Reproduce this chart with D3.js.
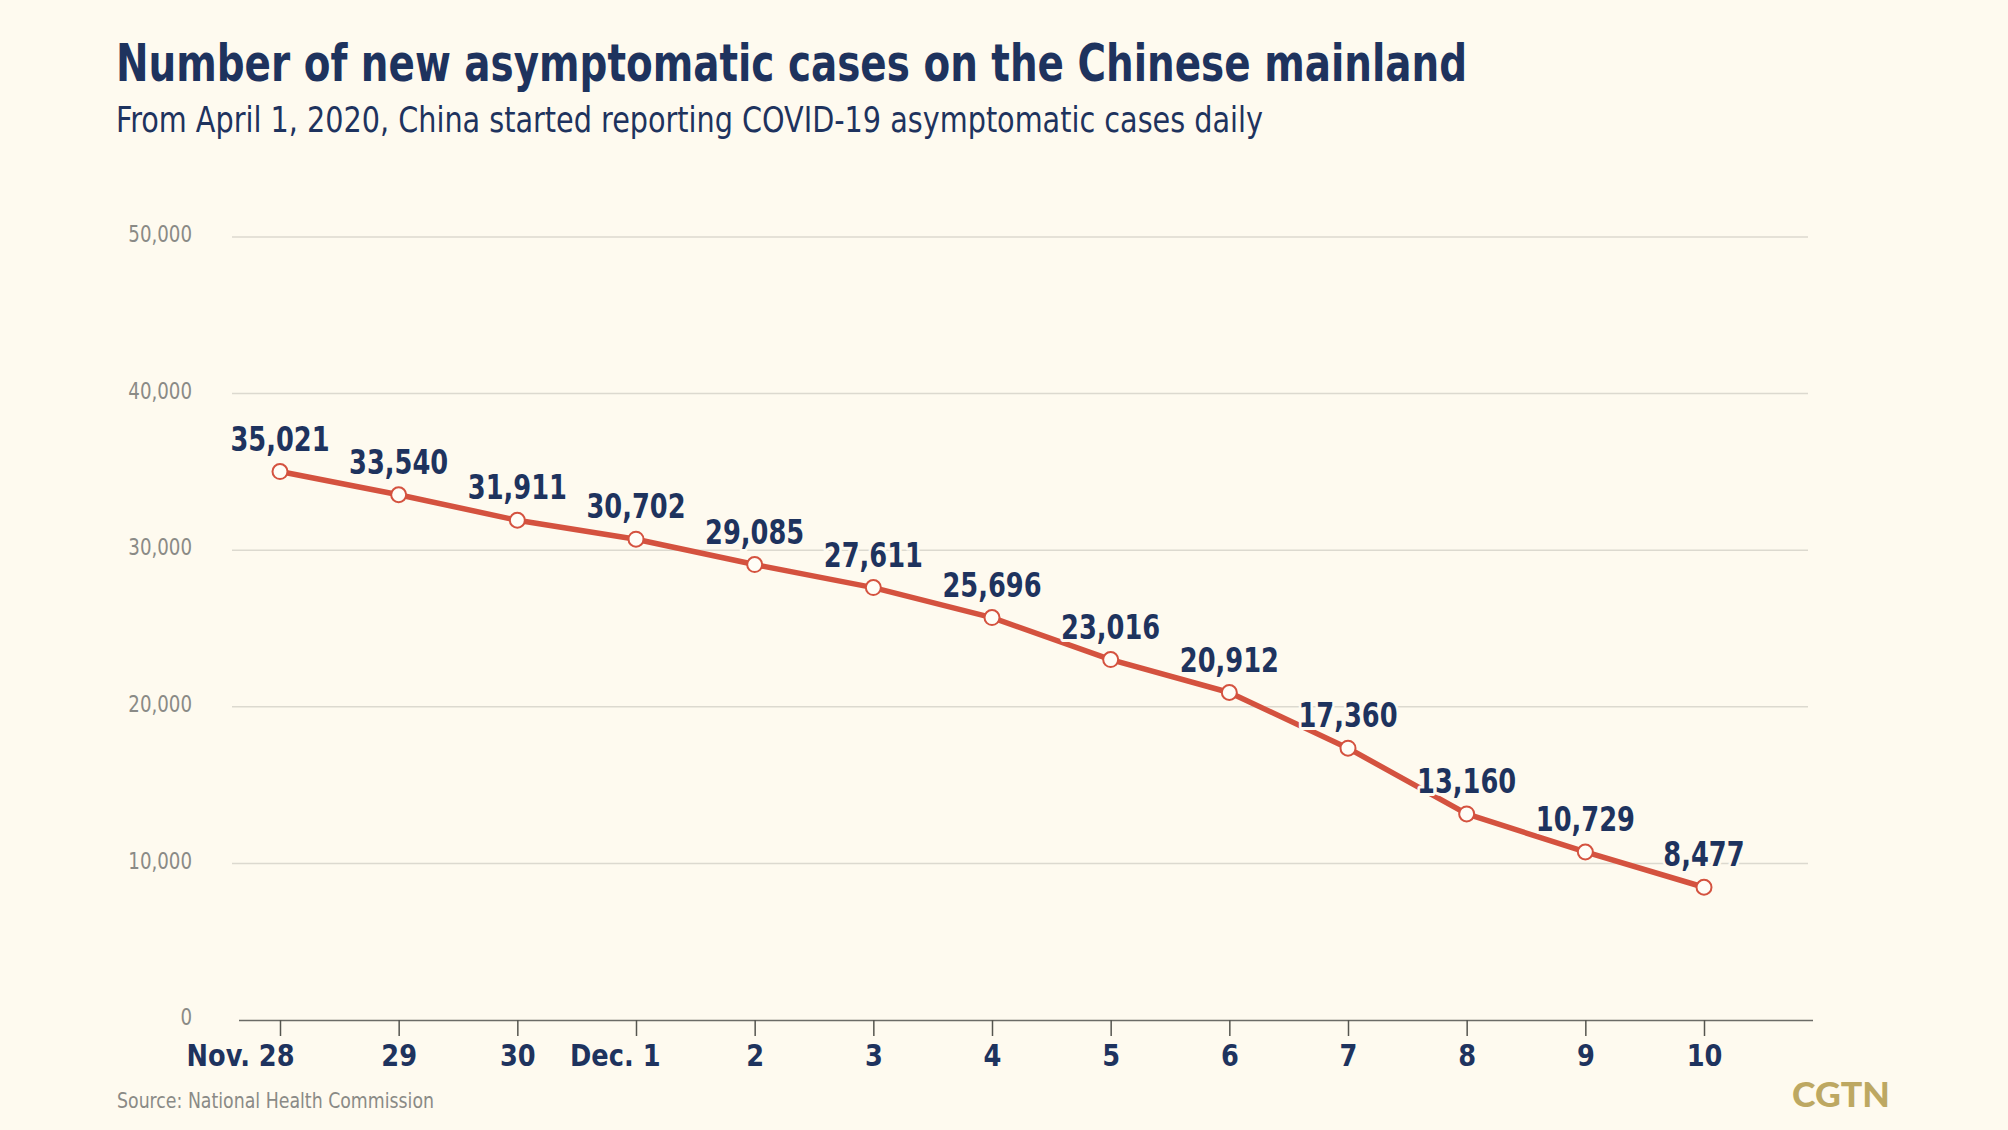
<!DOCTYPE html>
<html>
<head>
<meta charset="utf-8">
<script src="https://cdn.jsdelivr.net/npm/d3@7/dist/d3.min.js"></script>
<style>
  html, body { margin: 0; padding: 0; background: #fefaef; }
  svg { display: block; }
  .cond { font-family: "DejaVu Sans Condensed", "DejaVu Sans", sans-serif; font-stretch: condensed; }
</style>
</head>
<body>
<svg id="chart" width="2008" height="1130"></svg>
<script>
// ---- data ----
const categories = ["Nov. 28", "29", "30", "Dec. 1", "2", "3", "4", "5", "6", "7", "8", "9", "10"];
const values = [35021, 33540, 31911, 30702, 29085, 27611, 25696, 23016, 20912, 17360, 13160, 10729, 8477];
const yTicks = [0, 10000, 20000, 30000, 40000, 50000];
const titleText = "Number of new asymptomatic cases on the Chinese mainland";
const subtitleText = "From April 1, 2020, China started reporting COVID-19 asymptomatic cases daily";
const sourceText = "Source: National Health Commission";
const logoText = "CGTN";

// ---- styles ----
const BG = "#fefaef", NAVY = "#1e335e", RED = "#d4523f", GRID = "#dcd9cf", GRAY = "#8a8a86";

function squeeze(sel, f) {
  sel.each(function () {
    const w = this.getComputedTextLength();
    d3.select(this).attr("textLength", w * f).attr("lengthAdjust", "spacingAndGlyphs");
  });
}

const svg = d3.select("#chart");
svg.append("rect").attr("width", 2008).attr("height", 1130).attr("fill", BG);

const x = d3.scalePoint().domain(categories).range([280, 1704]);
const y = d3.scaleLinear().domain([0, 50000]).range([1020, 237]);

// title & subtitle
svg.append("text").attr("class", "cond")
  .attr("x", 116).attr("y", 81)
  .attr("font-size", 52).attr("font-weight", "bold").attr("fill", NAVY)
  .attr("textLength", 1351).attr("lengthAdjust", "spacingAndGlyphs")
  .text(titleText);
svg.append("text").attr("class", "cond")
  .attr("x", 116).attr("y", 132)
  .attr("font-size", 35).attr("fill", NAVY)
  .attr("textLength", 1147).attr("lengthAdjust", "spacingAndGlyphs")
  .text(subtitleText);

// gridlines
const grid = svg.append("g");
grid.selectAll("line").data(yTicks.filter(d => d > 0)).join("line")
  .attr("x1", 232).attr("x2", 1808)
  .attr("y1", d => y(d)).attr("y2", d => y(d))
  .attr("stroke", GRID).attr("stroke-width", 1.5);

// y axis labels
const yAxis = d3.axisLeft(y).tickValues(yTicks).tickSize(0).tickPadding(0)
  .tickFormat(d3.format(","));
const yg = svg.append("g").attr("transform", "translate(192,0)").call(yAxis);
yg.select(".domain").remove();
yg.selectAll("text").attr("class", "cond")
  .attr("font-size", 23).attr("fill", GRAY).attr("dy", "0.2em");
squeeze(yg.selectAll("text"), 0.88);

// x axis
const xAxis = d3.axisBottom(x).tickSize(16).tickPadding(8);
const xg = svg.append("g").attr("transform", `translate(0,${y(0)})`).call(xAxis);
xg.select(".domain").attr("d", "M239,0.5H1813").attr("stroke", "#6b6b66").attr("stroke-width", 1.5);
xg.selectAll(".tick line").attr("stroke", "#55554f").attr("stroke-width", 1.5);
xg.selectAll(".tick text").attr("class", "cond")
  .attr("font-size", 31).attr("font-weight", "bold").attr("fill", NAVY)
  .attr("y", 46).attr("dy", 0)
  .attr("text-anchor", d => d.includes(". ") ? "end" : "middle")
  .attr("x", d => d.startsWith("Nov") ? 14 : (d.startsWith("Dec") ? 24 : 0));
squeeze(xg.selectAll(".tick text"), 0.92);

// line
const pts = categories.map((c, i) => ({ c, v: values[i] }));
svg.append("path").datum(pts)
  .attr("fill", "none").attr("stroke", RED).attr("stroke-width", 5.5)
  .attr("stroke-linejoin", "round")
  .attr("d", d3.line().x(d => x(d.c)).y(d => y(d.v)));

svg.append("g").selectAll("circle").data(pts).join("circle")
  .attr("cx", d => x(d.c)).attr("cy", d => y(d.v)).attr("r", 7.5)
  .attr("fill", "#fffdf6").attr("stroke", RED).attr("stroke-width", 2);

// value labels with halo
const vl = svg.append("g").selectAll("text").data(pts).join("text").attr("class", "cond")
  .attr("x", d => x(d.c)).attr("y", d => y(d.v) - 21)
  .attr("text-anchor", "middle")
  .attr("font-size", 34).attr("font-weight", "bold").attr("fill", NAVY)
  .attr("stroke", BG).attr("stroke-width", 6).attr("paint-order", "stroke")
  .attr("stroke-linejoin", "round")
  .text(d => d3.format(",")(d.v));
squeeze(vl, 0.84);

// source
svg.append("text").attr("class", "cond")
  .attr("x", 117).attr("y", 1108)
  .attr("font-size", 21).attr("fill", GRAY)
  .attr("textLength", 317).attr("lengthAdjust", "spacingAndGlyphs")
  .text(sourceText);

// logo
svg.append("text")
  .attr("x", 1792).attr("y", 1107)
  .attr("font-family", "Lato, 'Open Sans', sans-serif").attr("font-weight", 900)
  .attr("font-size", 34).attr("fill", "#bda862")
  .attr("textLength", 98).attr("lengthAdjust", "spacingAndGlyphs")
  .text(logoText);
</script>
</body>
</html>
